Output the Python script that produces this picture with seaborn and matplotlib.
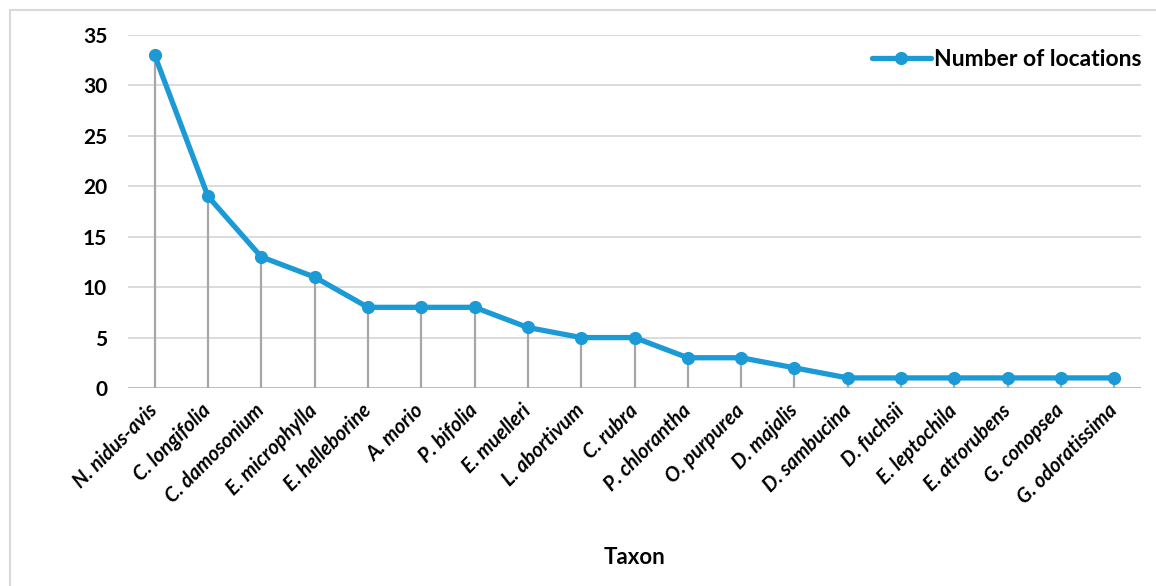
import matplotlib
matplotlib.use("Agg")
import matplotlib.pyplot as plt
import seaborn as sns
import pandas as pd
from matplotlib.patches import Rectangle

taxa = [
    "N. nidus-avis", "C. longifolia", "C. damosonium", "E. microphylla",
    "E. helleborine", "A. morio", "P. bifolia", "E. muelleri", "L. abortivum",
    "C. rubra", "P. chlorantha", "O. purpurea", "D. majalis", "D. sambucina",
    "D. fuchsii", "E. leptochila", "E. atrorubens", "G. conopsea",
    "G. odoratissima",
]
locations = [33, 19, 13, 11, 8, 8, 8, 6, 5, 5, 3, 3, 2, 1, 1, 1, 1, 1, 1]
y_ticks = [0, 5, 10, 15, 20, 25, 30, 35]

sns.set_theme(style="white")
plt.rcParams["font.family"] = ["Lato", "DejaVu Sans"]
plt.rcParams["text.color"] = "black"
plt.rcParams["axes.labelcolor"] = "black"
plt.rcParams["xtick.color"] = "black"
plt.rcParams["ytick.color"] = "black"

blue = "#1B9AD6"
df = pd.DataFrame({"Taxon": taxa, "Number of locations": locations})
df["pos"] = range(len(taxa))

fig = plt.figure(figsize=(11.56, 5.86), dpi=100)
ax = fig.add_axes([128 / 1156, 1 - 388 / 586, (1141 - 128) / 1156, (388 - 35) / 586])

# light frame around the chart area
fig.patches.append(Rectangle((10 / 1156, -0.05), 1.2, 1 - 10 / 586 + 0.05,
                             transform=fig.transFigure, fill=False,
                             edgecolor="#D9D9D9", linewidth=1.5))

ax.set_ylim(0, 35)
ax.set_xlim(-0.5, len(taxa) - 0.5)
for t in y_ticks[1:]:
    ax.axhline(t, color="#D9D9D9", linewidth=1.3, zorder=0)
ax.axhline(0, color="#BFBFBF", linewidth=1.5, zorder=1)

# drop lines from each point to the axis
ax.vlines(df["pos"], 0, df["Number of locations"], color="#A6A6A6",
          linewidth=1.6, zorder=2)

sns.lineplot(data=df, x="pos", y="Number of locations", ax=ax, color=blue,
             linewidth=3.8, marker="o", markersize=9.5, markeredgewidth=0,
             label="Number of locations", zorder=3, sort=False)

for s in ax.spines.values():
    s.set_visible(False)

ax.set_yticks(y_ticks)
ax.set_yticklabels([str(t) for t in y_ticks], fontsize=15, fontweight="bold")
ax.set_xticks(df["pos"])
ax.set_xticklabels(taxa, rotation=45, ha="right", va="center",
                   rotation_mode="anchor",
                   fontsize=14.5, fontweight="bold", fontstyle="italic")
ax.tick_params(axis="both", length=0, labelcolor="black")
ax.tick_params(axis="x", pad=14)
ax.tick_params(axis="y", pad=15)
ax.set_ylabel("")
ax.set_xlabel("Taxon", fontsize=16, fontweight="bold", labelpad=28,
              color="black")

leg = ax.legend(loc="upper right", bbox_to_anchor=(1.0, 0.96), frameon=False,
                handlelength=2.6, handletextpad=0.1, borderaxespad=0.0,
                borderpad=0.0, prop={"size": 16.5, "weight": "bold"},
                labelcolor="black")

fig.savefig("out.png", dpi=100, facecolor="white")
